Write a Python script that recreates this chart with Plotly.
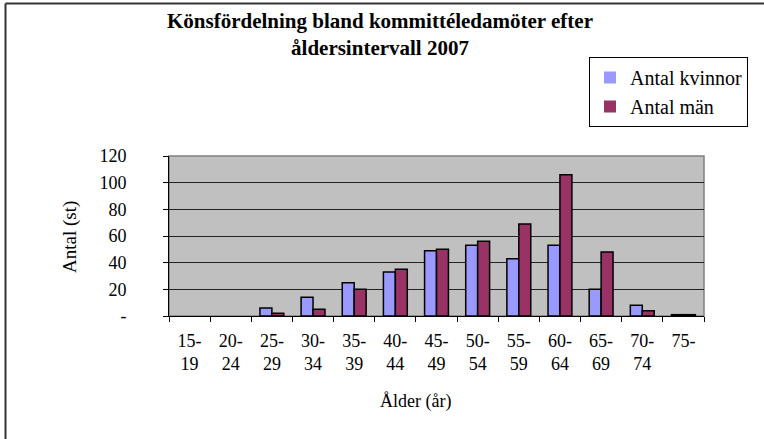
import plotly.graph_objects as go

categories = ["15-<br>19", "20-<br>24", "25-<br>29", "30-<br>34", "35-<br>39", "40-<br>44",
              "45-<br>49", "50-<br>54", "55-<br>59", "60-<br>64", "65-<br>69", "70-<br>74", "75-"]
women = [0, 0, 6, 14, 25, 33, 49, 53, 43, 53, 20, 8, 1]
men = [0, 0, 2, 5, 20, 35, 50, 56, 69, 106, 48, 4, 1]
y_tickvals = [0, 20, 40, 60, 80, 100, 120]
y_ticktext = ["-", "20", "40", "60", "80", "100", "120"]

FONT = "Liberation Serif, Times New Roman, serif"

W, H = 764, 439
L, R, T, B = 169, 704, 156, 316


def px(x):
    return (x - L) / (R - L)


def py(y):
    return (B - y) / (B - T)


def outline(vals):
    return [1.5 if v > 0 else 0 for v in vals]


fig = go.Figure()
fig.add_trace(go.Bar(x=categories, y=women, name="Antal kvinnor", legendgroup="a",
                     marker=dict(color="#9999FF", line=dict(color="black", width=outline(women)))))
fig.add_trace(go.Bar(x=categories, y=men, name="Antal män", legendgroup="b",
                     marker=dict(color="#993366", line=dict(color="black", width=outline(men)))))

fig.update_layout(
    width=W, height=H,
    margin=dict(l=L, r=W - R, t=T, b=H - B, autoexpand=False),
    paper_bgcolor="white",
    plot_bgcolor="#C0C0C0",
    font=dict(family=FONT, size=17, color="black"),
    barmode="group",
    bargap=0.42,
    bargroupgap=0,
    showlegend=True,
    legend=dict(x=px(589), y=py(57), xanchor="left", yanchor="top",
                bordercolor="black", borderwidth=1, bgcolor="white",
                font=dict(family=FONT, size=20, color="black"),
                traceorder="grouped", tracegroupgap=0, itemwidth=30),
)

fig.update_xaxes(
    type="category", tickson="boundaries", ticks="outside", ticklen=5, tickcolor="black",
    showline=True, linecolor="black", linewidth=1, showgrid=False,
    tickfont=dict(family=FONT, size=18, color="black"), tickangle=0,
    ticklabelstandoff=8,
)
fig.update_yaxes(
    range=[0, 120], tickvals=y_tickvals, ticktext=y_ticktext,
    ticks="outside", ticklen=5, tickcolor="black",
    showline=True, linecolor="black", linewidth=1,
    showgrid=True, gridcolor="#222222", gridwidth=1, zeroline=False,
    tickfont=dict(family=FONT, size=18, color="black"),
    ticklabelstandoff=33,
)

# plot area border (top and right, gray)
fig.add_shape(type="rect", xref="paper", yref="paper", x0=0, x1=1, y0=0, y1=1,
              line=dict(color="#808080", width=1.5), layer="below")

# outer chart frame (top and left visible)
fig.add_shape(type="line", xref="paper", yref="paper",
              x0=px(5.5), x1=px(770), y0=py(3.5), y1=py(3.5),
              line=dict(color="#333333", width=2))
fig.add_shape(type="line", xref="paper", yref="paper",
              x0=px(5.5), x1=px(5.5), y0=py(3.5), y1=py(445),
              line=dict(color="#333333", width=2))

# title
fig.add_annotation(xref="paper", yref="paper", x=px(380), y=py(35), xanchor="center", yanchor="middle",
                   text="<b>Könsfördelning bland kommittéledamöter efter<br>åldersintervall 2007</b>",
                   showarrow=False, font=dict(family=FONT, size=21, color="black"))

# axis titles
fig.add_annotation(xref="paper", yref="paper", x=px(415), y=py(401), xanchor="center", yanchor="middle",
                   text="Ålder (år)", showarrow=False, font=dict(family=FONT, size=18, color="black"))
fig.add_annotation(xref="paper", yref="paper", x=px(70), y=py(237), xanchor="center", yanchor="middle",
                   text="Antal (st)", textangle=-90, showarrow=False,
                   font=dict(family=FONT, size=19, color="black"))

fig.write_html("out.html", config={"displayModeBar": False},
               post_script="document.body.style.margin='0';document.body.style.overflow='hidden';")
